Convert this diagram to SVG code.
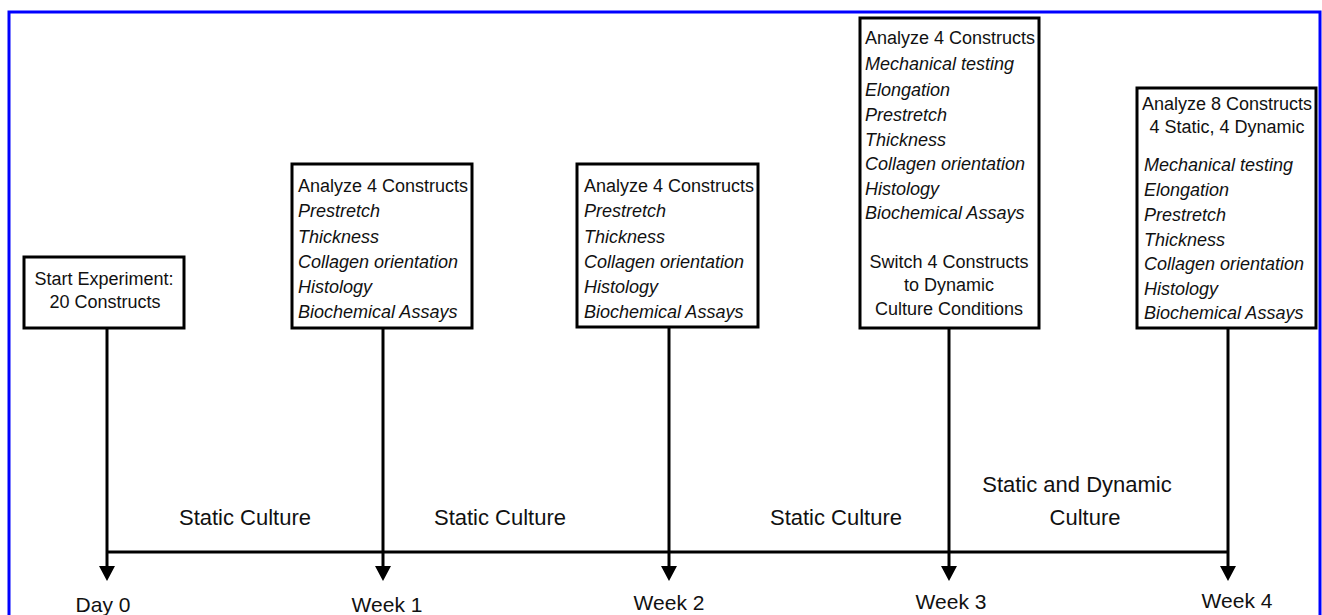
<svg xmlns="http://www.w3.org/2000/svg" width="1322" height="615" viewBox="0 0 1322 615">
<style>
.box{fill:#fff;stroke:#000;stroke-width:3}
.t{font-family:"Liberation Sans",Arial,sans-serif;font-size:18px;fill:#111}
.i{font-style:italic}
.c{text-anchor:middle}
.lbl{font-family:"Liberation Sans",Arial,sans-serif;font-size:22px;fill:#111;text-anchor:middle}
.wk{font-family:"Liberation Sans",Arial,sans-serif;font-size:21px;fill:#111;text-anchor:middle}
.ln{stroke:#000;stroke-width:3;fill:none}
</style>
<defs>
<marker id="ah" markerUnits="userSpaceOnUse" viewBox="-1 -9 17 18" markerWidth="17" markerHeight="18" refX="0" refY="0" orient="auto">
<path d="M0,-8 L15,0 L0,8 z" fill="#000"/>
</marker>
</defs>
<rect x="0" y="0" width="1322" height="615" fill="#fff"/>
<rect x="9" y="12" width="1311" height="620" fill="none" stroke="#0000ff" stroke-width="3"/>

<g id="connectors">
<path class="ln" d="M107,328 V566" marker-end="url(#ah)"/>
<path class="ln" d="M383,328 V566" marker-end="url(#ah)"/>
<path class="ln" d="M669,327 V566" marker-end="url(#ah)"/>
<path class="ln" d="M949,328 V566" marker-end="url(#ah)"/>
<path class="ln" d="M1228,328 V566" marker-end="url(#ah)"/>
<path class="ln" d="M107,552 H1228"/>
</g>

<g id="start">
<rect class="box" x="24" y="257" width="160" height="71"/>
<text class="t c" x="104" y="285">Start Experiment:</text>
<text class="t c" x="105" y="308">20 Constructs</text>
</g>

<g id="week1-box">
<rect class="box" x="292" y="164" width="180" height="164"/>
<text class="t" x="298" y="192">Analyze 4 Constructs</text>
<text class="t i" x="298" y="217">Prestretch</text>
<text class="t i" x="298" y="243">Thickness</text>
<text class="t i" x="298" y="268">Collagen orientation</text>
<text class="t i" x="298" y="293">Histology</text>
<text class="t i" x="298" y="318">Biochemical Assays</text>
</g>

<g id="week2-box">
<rect class="box" x="577" y="164" width="181" height="163"/>
<text class="t" x="584" y="192">Analyze 4 Constructs</text>
<text class="t i" x="584" y="217">Prestretch</text>
<text class="t i" x="584" y="243">Thickness</text>
<text class="t i" x="584" y="268">Collagen orientation</text>
<text class="t i" x="584" y="293">Histology</text>
<text class="t i" x="584" y="318">Biochemical Assays</text>
</g>

<g id="week3-box">
<rect class="box" x="860" y="18" width="179" height="310"/>
<text class="t" x="865" y="44">Analyze 4 Constructs</text>
<text class="t i" x="865" y="70">Mechanical testing</text>
<text class="t i" x="865" y="96">Elongation</text>
<text class="t i" x="865" y="121">Prestretch</text>
<text class="t i" x="865" y="146">Thickness</text>
<text class="t i" x="865" y="170">Collagen orientation</text>
<text class="t i" x="865" y="195">Histology</text>
<text class="t i" x="865" y="219">Biochemical Assays</text>
<text class="t c" x="949" y="268">Switch 4 Constructs</text>
<text class="t c" x="949" y="291">to Dynamic</text>
<text class="t c" x="949" y="315">Culture Conditions</text>
</g>

<g id="week4-box">
<rect class="box" x="1137" y="88" width="179" height="240"/>
<text class="t c" x="1227" y="110">Analyze 8 Constructs</text>
<text class="t c" x="1227" y="133">4 Static, 4 Dynamic</text>
<text class="t i" x="1144" y="171">Mechanical testing</text>
<text class="t i" x="1144" y="196">Elongation</text>
<text class="t i" x="1144" y="221">Prestretch</text>
<text class="t i" x="1144" y="246">Thickness</text>
<text class="t i" x="1144" y="270">Collagen orientation</text>
<text class="t i" x="1144" y="295">Histology</text>
<text class="t i" x="1144" y="319">Biochemical Assays</text>
</g>

<g id="phase-labels">
<text class="lbl" x="245" y="525">Static Culture</text>
<text class="lbl" x="500" y="525">Static Culture</text>
<text class="lbl" x="836" y="525">Static Culture</text>
<text class="lbl" x="1077" y="492">Static and Dynamic</text>
<text class="lbl" x="1085" y="525">Culture</text>
</g>

<g id="time-labels">
<text class="wk" x="103" y="612">Day 0</text>
<text class="wk" x="387" y="612">Week 1</text>
<text class="wk" x="669" y="610">Week 2</text>
<text class="wk" x="951" y="609">Week 3</text>
<text class="wk" x="1237" y="608">Week 4</text>
</g>
</svg>
